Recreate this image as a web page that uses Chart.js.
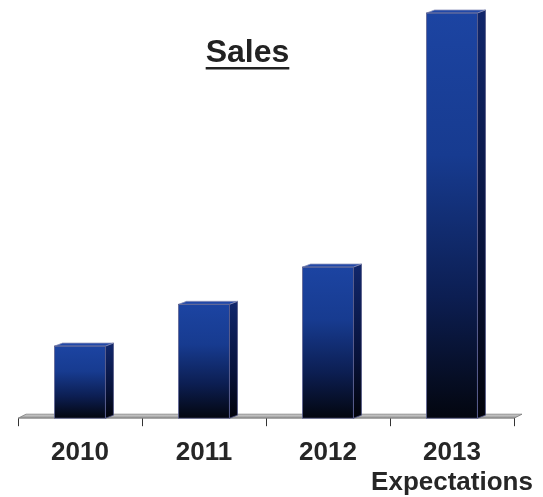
<!DOCTYPE html>
<html>
<head>
<meta charset="utf-8">
<script src="https://cdn.jsdelivr.net/npm/chart.js@4"></script>
<style>
  html, body { margin: 0; padding: 0; background: #fff; }
  #wrap { width: 543px; height: 497px; }
</style>
</head>
<body>
<div id="wrap"><canvas id="salesChart" width="543" height="497"></canvas></div>
<script>
// sales by year, relative units (2013 = 100)
let years = [['2010'], ['2011'], ['2012'], ['2013', 'Expectations']];
let sales = [17.8, 28.1, 37.3, 100];
let titleText = 'Sales';

let depthX = 8, depthY = 3; // fake 3d offset of the bars

function frontGradient(c) {
  let chart = c.chart;
  if (!chart.chartArea || !c.parsed) return '#173a8e';
  let y = chart.scales.y;
  let top = y.getPixelForValue(c.parsed.y);
  let base = y.getPixelForValue(0);
  let g = chart.ctx.createLinearGradient(0, top, 0, base);
  g.addColorStop(0, '#1c44a2');
  g.addColorStop(0.35, '#173b90');
  g.addColorStop(0.7, '#0c1e52');
  g.addColorStop(1, '#03060f');
  return g;
}

// grey floor under the bars
let floorPlugin = {
  id: 'floor',
  beforeDatasetsDraw(chart) {
    let ctx = chart.ctx, a = chart.chartArea;
    ctx.save();
    let g = ctx.createLinearGradient(0, a.bottom - 4, 0, a.bottom);
    g.addColorStop(0, '#d6d6d6');
    g.addColorStop(1, '#8f8f8f');
    ctx.fillStyle = g;
    ctx.beginPath();
    ctx.moveTo(a.left, a.bottom);
    ctx.lineTo(a.right, a.bottom);
    ctx.lineTo(a.right + depthX, a.bottom - 4);
    ctx.lineTo(a.left + depthX, a.bottom - 4);
    ctx.closePath();
    ctx.fill();
    ctx.strokeStyle = '#7a7a7a';
    ctx.lineWidth = 0.8;
    ctx.stroke();
    ctx.restore();
  }
};

// side and top faces for each bar
let bar3dPlugin = {
  id: 'bar3d',
  afterDatasetsDraw(chart) {
    let ctx = chart.ctx;
    chart.getDatasetMeta(0).data.forEach(bar => {
      let p = bar.getProps(['x', 'y', 'width', 'base'], true);
      let l = p.x - p.width / 2, r = p.x + p.width / 2;
      ctx.save();
      // side
      let g = ctx.createLinearGradient(0, p.y, 0, p.base);
      g.addColorStop(0, '#10266a');
      g.addColorStop(0.6, '#07123a');
      g.addColorStop(1, '#02030a');
      ctx.fillStyle = g;
      ctx.beginPath();
      ctx.moveTo(r, p.y);
      ctx.lineTo(r + depthX, p.y - depthY);
      ctx.lineTo(r + depthX, p.base - depthY);
      ctx.lineTo(r, p.base);
      ctx.closePath();
      ctx.fill();
      ctx.strokeStyle = '#4a4f80';
      ctx.lineWidth = 0.8;
      ctx.stroke();
      // top
      ctx.fillStyle = '#2148a8';
      ctx.beginPath();
      ctx.moveTo(l, p.y);
      ctx.lineTo(l + depthX, p.y - depthY);
      ctx.lineTo(r + depthX, p.y - depthY);
      ctx.lineTo(r, p.y);
      ctx.closePath();
      ctx.fill();
      ctx.strokeStyle = '#8a90b8';
      ctx.stroke();
      // front outline
      ctx.strokeStyle = '#5a6090';
      ctx.strokeRect(l, p.y, p.width, p.base - p.y);
      ctx.restore();
    });
  }
};

// underlined title inside the plot
let titlePlugin = {
  id: 'underTitle',
  afterDraw(chart) {
    let ctx = chart.ctx;
    ctx.save();
    ctx.font = 'bold 32px "Liberation Sans", Arial, sans-serif';
    ctx.fillStyle = '#222';
    ctx.textAlign = 'center';
    ctx.textBaseline = 'alphabetic';
    let cx = 247.5, by = 62;
    ctx.fillText(titleText, cx, by);
    let w = ctx.measureText(titleText).width;
    ctx.fillRect(cx - w / 2, by + 5, w, 2.5);
    ctx.restore();
  }
};

new Chart(document.getElementById('salesChart'), {
  type: 'bar',
  data: {
    labels: years,
    datasets: [{
      data: sales,
      backgroundColor: frontGradient,
      borderWidth: 0,
      barPercentage: 0.41,
      categoryPercentage: 1
    }]
  },
  options: {
    responsive: false,
    animation: false,
    layout: { padding: { top: 13, left: 18, right: 29, bottom: -13 } },
    plugins: {
      legend: { display: false },
      tooltip: { enabled: false }
    },
    scales: {
      x: {
        offset: true,
        border: { display: false },
        // let the wide "Expectations" label hang into the margin
        afterFit(scale) {
          scale.paddingLeft = 0;
          scale.paddingRight = 0;
        },
        grid: {
          offset: true,
          drawOnChartArea: false,
          drawTicks: true,
          tickLength: 8,
          tickWidth: 1,
          tickColor: '#333'
        },
        ticks: {
          color: '#262626',
          padding: 12,
          maxRotation: 0,
          autoSkip: false,
          font: { family: '"Liberation Sans", Arial, sans-serif', size: 26, weight: 'bold', lineHeight: 1.15 }
        }
      },
      y: { display: false, min: 0, max: 100 }
    }
  },
  plugins: [floorPlugin, bar3dPlugin, titlePlugin]
});
</script>
</body>
</html>
